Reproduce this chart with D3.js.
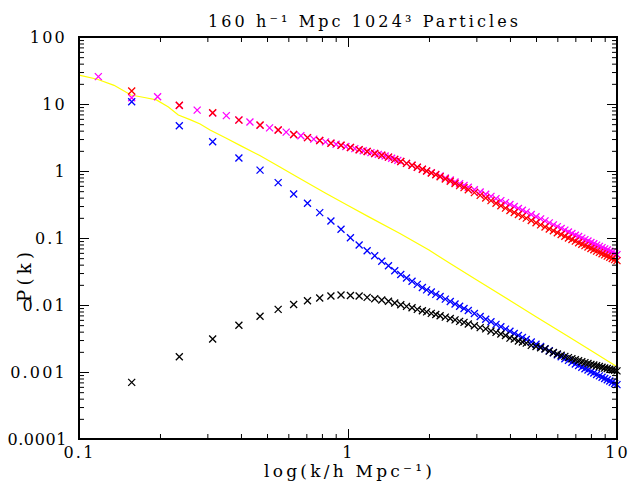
<!DOCTYPE html>
<html>
<head>
<meta charset="utf-8">
<script src="https://cdn.jsdelivr.net/npm/d3@7"></script>
<style>
  body { margin: 0; background: #fff; }
  text { font-family: "DejaVu Serif", serif; fill: #000; }
</style>
</head>
<body>
<svg id="chart" width="633" height="490"></svg>
<script>
// k values (h/Mpc) of the measured points
const kMagentaLow = [0.118, 0.157, 0.196, 0.236, 0.275, 0.314, 0.353, 0.393, 0.432, 0.471,
  0.511, 0.550, 0.589, 0.628, 0.668, 0.707, 0.746, 0.785, 0.825, 0.864,
  0.903, 0.942, 0.982, 1.021, 1.060, 1.100, 1.139, 1.178, 1.217, 1.257,
  1.296, 1.335, 1.374, 1.414, 1.453, 1.492, 1.532, 1.571];
const kSampledLow = [0.157, 0.236, 0.314, 0.393, 0.471, 0.550, 0.628, 0.707, 0.785, 0.864,
  0.942, 1.021, 1.100, 1.178, 1.257, 1.335, 1.414, 1.492, 1.571];
const kTail = [1.65, 1.73, 1.81, 1.89, 1.96, 2.04, 2.12, 2.2, 2.3, 2.4,
  2.5, 2.6, 2.7, 2.8, 2.95, 3.1, 3.25, 3.4, 3.55, 3.7,
  3.85, 4.0, 4.15, 4.3, 4.45, 4.6, 4.8, 5.0, 5.2, 5.4,
  5.6, 5.8, 6.0, 6.2, 6.4, 6.6, 6.8, 7.0, 7.2, 7.4,
  7.6, 7.8, 8.0, 8.2, 8.4, 8.6, 8.8, 9.0, 9.2, 9.4,
  9.6, 9.8, 10.0];

// P(k) of each series
const pMagenta = [25.6, 12.4, 12.8, 9.5, 8.1, 7.3, 6.7, 5.8, 5.4, 4.8,
  4.4, 4.1, 3.8, 3.5, 3.35, 3.15, 2.99, 2.85, 2.72, 2.61,
  2.51, 2.42, 2.32, 2.24, 2.16, 2.08, 2.01, 1.95, 1.88, 1.83,
  1.77, 1.72, 1.67, 1.61, 1.55, 1.49, 1.44, 1.39,
  1.30, 1.22, 1.14, 1.06, 1.00, 0.94, 0.89, 0.84, 0.785, 0.735,
  0.687, 0.644, 0.607, 0.571, 0.525, 0.485, 0.450, 0.418, 0.387, 0.361,
  0.337, 0.316, 0.295, 0.276, 0.259, 0.243, 0.224, 0.208, 0.193, 0.180,
  0.168, 0.157, 0.148, 0.139, 0.131, 0.123, 0.117, 0.110, 0.105, 0.0995,
  0.0946, 0.0902, 0.0859, 0.0820, 0.0783, 0.0750, 0.0718, 0.0689, 0.0661, 0.0634,
  0.0610, 0.0586, 0.0565];
const pRed = [15.6, 9.6, 7.4, 5.75, 4.85, 4.1, 3.5, 3.15, 2.85, 2.6,
  2.42, 2.24, 2.08, 1.95, 1.83, 1.72, 1.61, 1.49, 1.39,
  1.30, 1.22, 1.14, 1.06, 1.00, 0.935, 0.877, 0.822, 0.761, 0.705,
  0.652, 0.605, 0.564, 0.526, 0.475, 0.433, 0.395, 0.361, 0.330, 0.303,
  0.279, 0.257, 0.240, 0.224, 0.210, 0.198, 0.182, 0.169, 0.157, 0.146,
  0.136, 0.128, 0.120, 0.113, 0.106, 0.100, 0.0948, 0.0897, 0.0851, 0.0809,
  0.0769, 0.0733, 0.0698, 0.0667, 0.0637, 0.0610, 0.0583, 0.0560, 0.0537, 0.0515,
  0.0495, 0.0476, 0.0459];
const pBlue = [10.8, 4.74, 2.74, 1.56, 1.03, 0.67, 0.454, 0.33, 0.239, 0.179,
  0.135, 0.101, 0.0787, 0.0646, 0.0544, 0.0449, 0.0386, 0.0325, 0.0285,
  0.0253, 0.0226, 0.0203, 0.0182, 0.0168, 0.0156, 0.0144, 0.0134, 0.01225, 0.01125,
  0.01037, 0.00959, 0.00889, 0.00827, 0.00745, 0.00674, 0.00614, 0.00561, 0.00514, 0.00473,
  0.00437, 0.00405, 0.00376, 0.0035, 0.00327, 0.00306, 0.00281, 0.00259, 0.0024, 0.00222,
  0.00207, 0.00193, 0.0018, 0.00169, 0.00158, 0.00149, 0.0014, 0.00132, 0.00125, 0.00118,
  0.00112, 0.00107, 0.00101, 0.000964, 0.000918, 0.000876, 0.000837, 0.0008, 0.000766, 0.000733,
  0.000703, 0.000675, 0.000648];
const pBlack = [0.0007, 0.00169, 0.0031, 0.0050, 0.0068, 0.0086, 0.0102, 0.0116, 0.0127, 0.0136,
  0.0141, 0.0139, 0.0136, 0.0130, 0.0124, 0.0119, 0.0114, 0.0107, 0.0101,
  0.00955, 0.0091, 0.0086, 0.0082, 0.0079, 0.0075, 0.0072, 0.0069, 0.0066, 0.0063,
  0.0060, 0.0057, 0.0055, 0.0052, 0.0049, 0.0046, 0.0044, 0.0041, 0.0039, 0.0037,
  0.0035, 0.0032, 0.0031, 0.0029, 0.0028, 0.0027, 0.0025, 0.0024, 0.0023, 0.0022,
  0.00205, 0.00195, 0.00186, 0.00178, 0.00171, 0.00164, 0.00158, 0.00152, 0.00147, 0.00142,
  0.00138, 0.00134, 0.0013, 0.00127, 0.00124, 0.00121, 0.00118, 0.00115, 0.00113, 0.0011,
  0.00108, 0.00106, 0.00104];

// linear theory curve (yellow line)
const kLinear = [0.1, 0.117, 0.135, 0.156, 0.175, 0.194, 0.215, 0.234, 0.26, 0.282,
  0.307, 0.35, 0.4, 0.47, 0.55, 0.65, 0.82, 1.0, 1.2, 1.56,
  2.0, 2.39, 3.0, 4.0, 5.0, 6.5, 8.0, 10];
const pLinear = [27, 23.4, 19, 13.6, 12.5, 11.5, 9, 6.85, 5.8, 5.03,
  4.09, 3.13, 2.37, 1.7, 1.19, 0.805, 0.473, 0.305, 0.205, 0.117,
  0.066, 0.0419, 0.0239, 0.0117, 0.0067, 0.0035, 0.00209, 0.0012];

const xMajor = [0.1, 1, 10];
const xLabels = ["0.1", "1", "10"];
const yMajor = [0.0001, 0.001, 0.01, 0.1, 1, 10, 100];
const yLabels = ["0.0001", "0.001", "0.01", "0.1", "1", "10", "100"];

const kMagenta = kMagentaLow.concat(kTail);
const kSampled = kSampledLow.concat(kTail);

const series = [
  { color: "#ff00ff", k: kMagenta, p: pMagenta },
  { color: "#ff0000", k: kSampled, p: pRed },
  { color: "#0000ff", k: kSampled, p: pBlue },
  { color: "#000000", k: kSampled, p: pBlack }
];

const margin = { top: 37, right: 16, bottom: 51, left: 79 };
const svg = d3.select("#chart");
const width = +svg.attr("width");
const height = +svg.attr("height");

const x = d3.scaleLog().domain([0.1, 10]).range([margin.left, width - margin.right]);
const y = d3.scaleLog().domain([0.0001, 100]).range([height - margin.bottom, margin.top]);

const xMinor = x.ticks().filter((d) => !xMajor.some((m) => Math.abs(m - d) < 1e-9));
const yMinor = y.ticks().filter((d) => !yMajor.some((m) => Math.abs(m / d - 1) < 1e-6));

// yellow linear P(k)
const line = d3.line()
  .x((d, i) => x(kLinear[i]))
  .y((d) => y(d));

svg.append("path")
  .datum(pLinear)
  .attr("fill", "none")
  .attr("stroke", "#ffff00")
  .attr("stroke-width", 1.2)
  .attr("d", line);

// cross markers
const cross = "M-3.5,-3.5L3.5,3.5M-3.5,3.5L3.5,-3.5";
series.forEach((s) => {
  svg.append("g")
    .selectAll("path")
    .data(s.p)
    .join("path")
    .attr("d", cross)
    .attr("transform", (d, i) => `translate(${x(s.k[i])},${y(d)})`)
    .attr("fill", "none")
    .attr("stroke", s.color)
    .attr("stroke-width", 1.3);
});

// axes: ticks point inwards on all four sides
const bottom = height - margin.bottom;
const right = width - margin.right;

const styleAxis = (g) => {
  g.select(".domain").remove();
  g.selectAll(".tick line").attr("stroke", "#000").attr("stroke-width", 1);
  g.selectAll(".tick text")
    .style("font-family", "'DejaVu Serif', serif")
    .style("font-size", "16px")
    .style("letter-spacing", "2.2px");
};

svg.append("g")
  .attr("transform", `translate(0,${bottom})`)
  .call(d3.axisBottom(x).tickValues(xMajor).tickSize(-10).tickPadding(8)
    .tickFormat((d, i) => xLabels[i]))
  .call(styleAxis);
svg.append("g")
  .attr("transform", `translate(0,${bottom})`)
  .call(d3.axisBottom(x).tickValues(xMinor).tickSize(-5).tickFormat(""))
  .call(styleAxis);
svg.append("g")
  .attr("transform", `translate(0,${margin.top})`)
  .call(d3.axisTop(x).tickValues(xMajor).tickSize(-10).tickFormat(""))
  .call(styleAxis);
svg.append("g")
  .attr("transform", `translate(0,${margin.top})`)
  .call(d3.axisTop(x).tickValues(xMinor).tickSize(-5).tickFormat(""))
  .call(styleAxis);

const leftAxis = svg.append("g")
  .attr("transform", `translate(${margin.left},0)`)
  .call(d3.axisLeft(y).tickValues(yMajor).tickSize(-10).tickPadding(12)
    .tickFormat((d, i) => yLabels[i]))
  .call(styleAxis);
// the lowest label is the longest one: tighten it so it stays on the page
leftAxis.selectAll(".tick text")
  .filter((d) => d === yMajor[0])
  .style("letter-spacing", "0.6px");

svg.append("g")
  .attr("transform", `translate(${margin.left},0)`)
  .call(d3.axisLeft(y).tickValues(yMinor).tickSize(-5).tickFormat(""))
  .call(styleAxis);
svg.append("g")
  .attr("transform", `translate(${right},0)`)
  .call(d3.axisRight(y).tickValues(yMajor).tickSize(-10).tickFormat(""))
  .call(styleAxis);
svg.append("g")
  .attr("transform", `translate(${right},0)`)
  .call(d3.axisRight(y).tickValues(yMinor).tickSize(-5).tickFormat(""))
  .call(styleAxis);

// frame
svg.append("rect")
  .attr("x", margin.left)
  .attr("y", margin.top)
  .attr("width", right - margin.left)
  .attr("height", bottom - margin.top)
  .attr("fill", "none")
  .attr("stroke", "#000")
  .attr("stroke-width", 2);

// titles
svg.append("text")
  .attr("x", 363)
  .attr("y", 27)
  .attr("text-anchor", "middle")
  .attr("textLength", 310)
  .attr("lengthAdjust", "spacing")
  .style("font-size", "16px")
  .text("160 h\u207B\u00B9 Mpc 1024\u00B3 Particles");

svg.append("text")
  .attr("x", (margin.left + right) / 2)
  .attr("y", 477)
  .attr("text-anchor", "middle")
  .attr("textLength", 168)
  .attr("lengthAdjust", "spacing")
  .style("font-size", "17px")
  .text("log(k/h Mpc\u207B\u00B9)");

svg.append("text")
  .attr("transform", "translate(31,277) rotate(-90)")
  .attr("text-anchor", "middle")
  .attr("textLength", 50)
  .attr("lengthAdjust", "spacing")
  .style("font-size", "18px")
  .text("P(k)");
</script>
</body>
</html>
